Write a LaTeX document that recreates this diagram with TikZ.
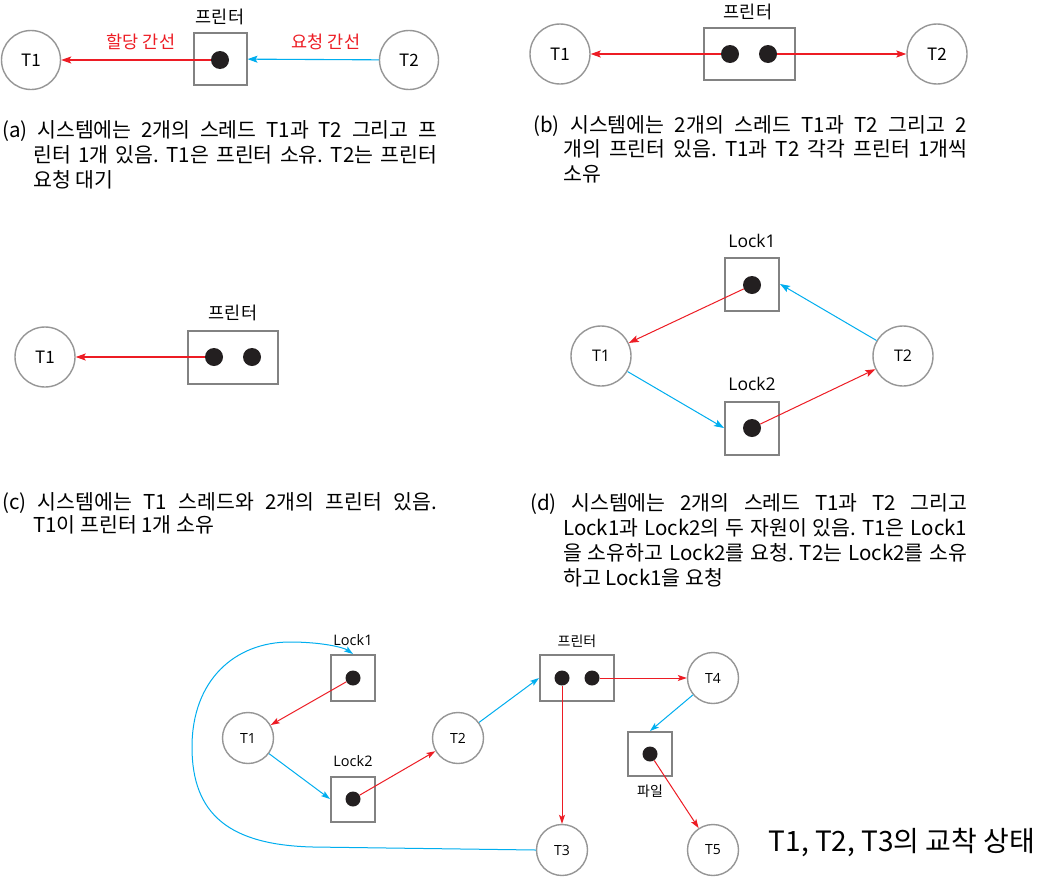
\documentclass[tikz,border=0pt]{standalone}
\usepackage{fontspec}
\setmainfont{Noto Sans CJK KR}
\newfontfamily\lbl{Open Sans}
\usetikzlibrary{arrows.meta}
\frenchspacing
\definecolor{ered}{RGB}{237,28,36}
\definecolor{eblue}{RGB}{0,174,239}
\definecolor{cgray}{RGB}{150,150,150}
\definecolor{bgray}{RGB}{130,130,130}
\definecolor{dotc}{RGB}{35,31,32}
\tikzset{
  thr/.style={circle,draw=cgray,line width=1.4pt,minimum size=#1,inner sep=0pt},
  thr/.default=59pt,
  res/.style={rectangle,draw=bgray,line width=2pt,inner sep=0pt},
  tok/.style={circle,fill=dotc,minimum size=#1,inner sep=0pt},
  tok/.default=18pt,
  alloc/.style={draw=ered,line width=1.1pt,-{Stealth[length=10pt,width=7pt,inset=2pt]}},
  reqe/.style={draw=eblue,line width=1.1pt,-{Stealth[length=10pt,width=7pt,inset=2pt]}},
  salloc/.style={draw=ered,line width=1pt,-{Stealth[length=9pt,width=6pt,inset=2pt]}},
  sreq/.style={draw=eblue,line width=1pt,-{Stealth[length=9pt,width=6pt,inset=2pt]}},
  captxt/.style={inner sep=0pt,anchor=base west,font=\fontsize{20.5}{22}\selectfont},
  klab/.style={inner sep=0pt,font=\fontsize{17.5}{20}\selectfont},
  sklab/.style={inner sep=0pt,font=\fontsize{14}{17}\selectfont},
}
\begin{document}
\begin{tikzpicture}[x=1pt,y=-1pt]
\path[use as bounding box,fill=white] (0,0) rectangle (1040,878);

% ---------- (a)
\node[thr,font=\fontsize{17}{18}\selectfont] (a1) at (31,60) {T1};
\node[thr,font=\fontsize{17}{18}\selectfont] (a2) at (409,60) {T2};
\node[res,minimum width=53pt,minimum height=52pt] (abox) at (220,59) {};
\node[tok] (adot) at (220,60) {};
\node[klab] (alab) at (220,17) {프린터};
\draw[alloc] (adot) -- (a1);
\draw[reqe] (a2) -- (abox);
\node[klab,text=ered] (aal) at (141,42) {할당 간선};
\node[klab,text=ered] (arl) at (326,42) {요청 간선};
\node[captxt] (ca1) at (2,137) {\makebox[435pt][s]{(a) 시스템에는 2개의 스레드 T1과 T2 그리고 프}};
\node[captxt] (ca2) at (33,162) {\makebox[404pt][s]{린터 1개 있음. T1은 프린터 소유. T2는 프린터}};
\node[captxt] (ca3) at (33,187) {요청 대기};

% ---------- (b)
\node[thr=60pt,font=\fontsize{17}{18}\selectfont] (b1) at (560,54) {T1};
\node[thr=60pt,font=\fontsize{17}{18}\selectfont] (b2) at (937,54) {T2};
\node[res,minimum width=91pt,minimum height=52pt] (bbox) at (749,54) {};
\node[tok] (bd1) at (730,54) {};
\node[tok] (bd2) at (768,54) {};
\node[klab] (blab) at (748,12) {프린터};
\draw[alloc] (bd1) -- (b1);
\draw[alloc] (bd2) -- (b2);
\node[captxt] (cb1) at (533,132) {\makebox[434pt][s]{(b) 시스템에는 2개의 스레드 T1과 T2 그리고 2}};
\node[captxt] (cb2) at (563,156) {\makebox[404pt][s]{개의 프린터 있음. T1과 T2 각각 프린터 1개씩}};
\node[captxt] (cb3) at (563,181) {소유};

% ---------- (c)
\node[thr=60pt,font=\fontsize{17}{18}\selectfont] (c1) at (45,357) {T1};
\node[res,minimum width=90pt,minimum height=53pt] (cbox) at (233,357) {};
\node[tok] (cd1) at (214,357) {};
\node[tok] (cd2) at (252,357) {};
\node[klab] (clab) at (233,313) {프린터};
\draw[alloc] (cd1) -- (c1);
\node[captxt] (cc1) at (2,509) {\makebox[435pt][s]{(c) 시스템에는 T1 스레드와 2개의 프린터 있음.}};
\node[captxt] (cc2) at (33,532) {T1이 프린터 1개 소유};

% ---------- (d)
\node[thr=60pt,font=\lbl\fontsize{16}{18}\selectfont] (d1) at (601,356) {T1};
\node[thr=60pt,font=\lbl\fontsize{16}{18}\selectfont] (d2) at (903,356) {T2};
\node[res,minimum width=54pt,minimum height=53pt] (dl1) at (752,284) {};
\node[res,minimum width=54pt,minimum height=53pt] (dl2) at (752,428) {};
\node[tok] (dd1) at (752,285) {};
\node[tok] (dd2) at (752,428) {};
\node[inner sep=0pt,font=\lbl\fontsize{17.5}{20}\selectfont] (dl1lab) at (752,241) {Lock1};
\node[inner sep=0pt,font=\lbl\fontsize{17.5}{20}\selectfont] (dl2lab) at (752,384) {Lock2};
\draw[alloc,line width=1pt] (dd1) -- (d1);
\draw[reqe,line width=1pt] (d2) -- (dl1.east);
\draw[reqe,line width=1pt] (d1) -- (dl2.west);
\draw[alloc,line width=1pt] (dd2) -- (d2);
\node[captxt] (cd1c) at (530,510) {\makebox[437pt][s]{(d) 시스템에는 2개의 스레드 T1과 T2 그리고}};
\node[captxt] (cd2c) at (563,535) {\makebox[404pt][s]{Lock1과 Lock2의 두 자원이 있음. T1은 Lock1}};
\node[captxt] (cd3c) at (563,560) {\makebox[404pt][s]{을 소유하고 Lock2를 요청. T2는 Lock2를 소유}};
\node[captxt] (cd4c) at (563,585) {하고 Lock1을 요청};

% ---------- bottom
\node[thr=51pt,font=\lbl\fontsize{14}{16}\selectfont] (e1) at (248,738) {T1};
\node[thr=51pt,font=\lbl\fontsize{14}{16}\selectfont] (e2) at (458,738) {T2};
\node[thr=51pt,font=\lbl\fontsize{14}{16}\selectfont] (e3) at (562,850) {T3};
\node[thr=51pt,font=\lbl\fontsize{14}{16}\selectfont] (e4) at (713,678) {T4};
\node[thr=51pt,font=\lbl\fontsize{14}{16}\selectfont] (e5) at (713,850) {T5};
\node[res,minimum width=44pt,minimum height=46pt] (el1) at (353,678) {};
\node[res,minimum width=44pt,minimum height=45pt] (el2) at (353,799) {};
\node[res,minimum width=74pt,minimum height=46pt] (epr) at (577,678) {};
\node[res,minimum width=44pt,minimum height=44pt] (efi) at (650,754) {};
\node[tok=15pt] (ed1) at (353,678) {};
\node[tok=15pt] (ed2) at (353,799) {};
\node[tok=15pt] (ep1) at (562,678) {};
\node[tok=15pt] (ep2) at (592,678) {};
\node[tok=15pt] (ef) at (650,754) {};
\node[inner sep=0pt,font=\lbl\fontsize{14.5}{17}\selectfont] (el1lab) at (353,640) {Lock1};
\node[inner sep=0pt,font=\lbl\fontsize{14.5}{17}\selectfont] (el2lab) at (353,761) {Lock2};
\node[sklab] (eprlab) at (577,641) {프린터};
\node[sklab] (efilab) at (650,791) {파일};
\draw[salloc] (ed1) -- (e1);
\draw[sreq] (e1) -- (el2.west);
\draw[salloc] (ed2) -- (e2);
\draw[sreq] (e2) -- (epr.west);
\draw[salloc] (ep1) -- (e3);
\draw[salloc] (ep2) -- (e4);
\draw[sreq] (e4) -- (efi.north);
\draw[salloc] (ef) -- (e5);
\draw[sreq] (e3.west) -- (313,847) .. controls (230,845) and (192,815) .. (192,747)
   .. controls (192,680) and (235,642) .. (290,642)
   .. controls (320,642) and (343,647) .. (el1.north);
\node[inner sep=0pt,font=\fontsize{28}{32}\selectfont] (title) at (902,843) {T1, T2, T3의 교착 상태};
\end{tikzpicture}
\end{document}
